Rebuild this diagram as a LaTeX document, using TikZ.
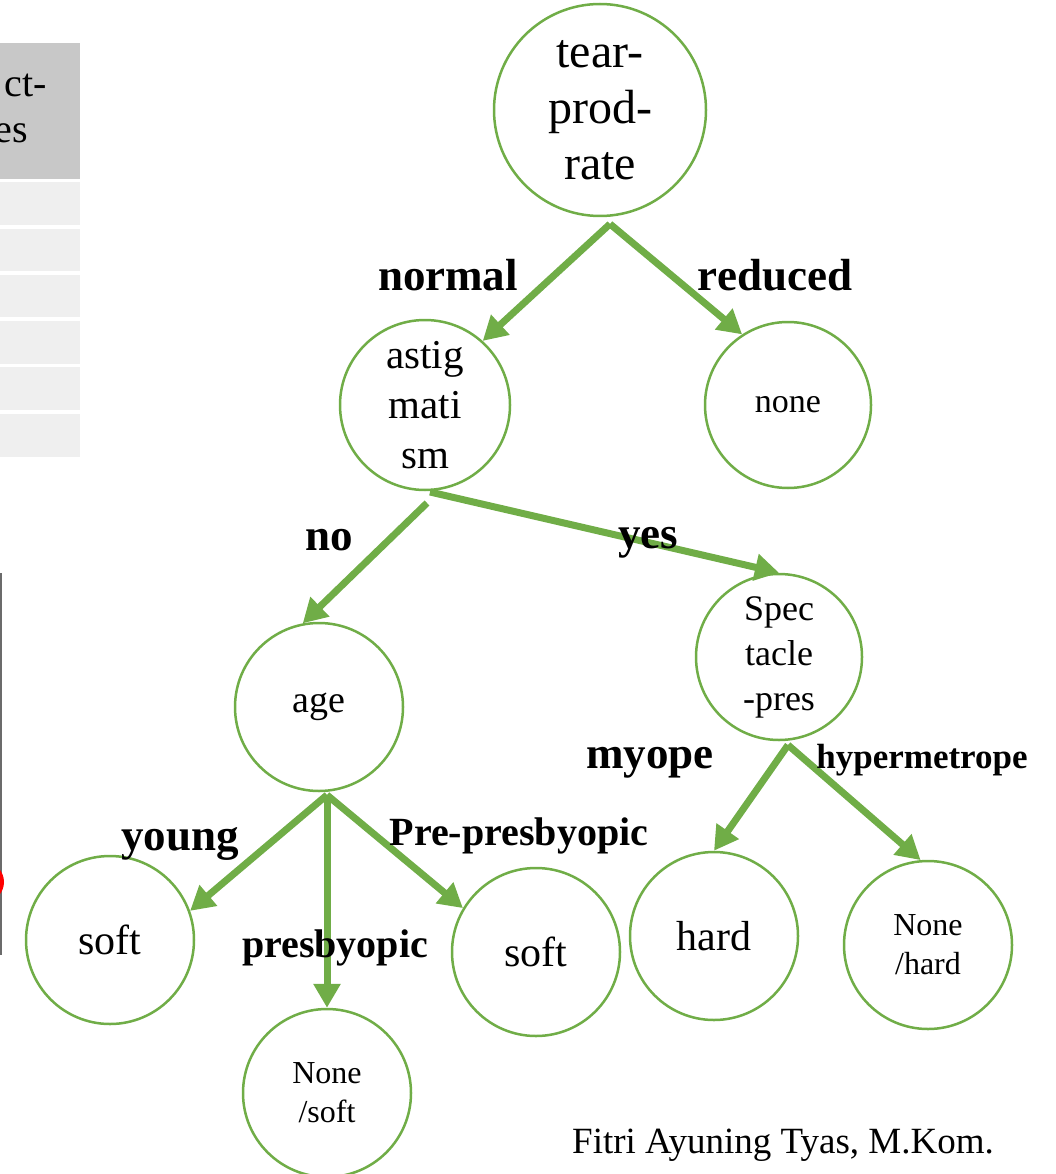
\documentclass[tikz,border=0pt]{standalone}
\usepackage{fontspec}
\setmainfont{Liberation Serif}
\usetikzlibrary{arrows.meta}
\definecolor{grn}{HTML}{70AD47}
\definecolor{hdr}{HTML}{C8C8C8}
\definecolor{rowc}{HTML}{EFEFEF}
\begin{document}
\begin{tikzpicture}[x=1pt,y=-1pt,
  circ/.style={circle,draw=grn,line width=2.5pt,fill=white,inner sep=0pt,minimum size=#1,align=center},
  edge/.style={draw=grn,line width=7pt,-{Triangle[length=24pt,width=26pt]}},
  lbl/.style={font=\fontsize{45}{50}\selectfont\bfseries,anchor=base,inner sep=0pt},
  fs/.style={font=\fontsize{#1}{#1}\selectfont}
]
\useasboundingbox (0,0) rectangle (1056,1174);
% partial table at left
\fill[hdr] (0,43) rectangle (80,179);
\foreach \a/\b in {182/225,229/271,275/317,321/364,367/410,414/457}
  \fill[rowc] (0,\a) rectangle (80,\b);
\node[font=\fontsize{40}{40}\selectfont,anchor=base east,inner sep=0pt] (h1) at (47,97) {ct-};
\node[font=\fontsize{40}{40}\selectfont,anchor=base east,inner sep=0pt] (h2) at (28,143) {es};
% partial frame and red mark at left
\draw[line width=2.5pt,color=black!58] (1,573) -- (1,955);
\draw[red,line width=4pt] (-16,882) circle[radius=18];

% nodes
\node[circ=212pt,font=\fontsize{48}{56}\selectfont] (tear) at (600,110) {tear-\\prod-\\rate};
\node[circ=170pt,font=\fontsize{41}{50}\selectfont] (astig) at (425,405) {astig\\mati\\sm};
\node[circ=166pt,font=\fontsize{34}{40}\selectfont] (none) at (788,405) {none};
\node[circ=168pt,font=\fontsize{38}{40}\selectfont] (age) at (319,707) {age};
\node[circ=166pt,font=\fontsize{36}{45}\selectfont] (spect) at (779,657) {Spec\\tacle\\-pres};
\node[circ=168pt,font=\fontsize{42}{42}\selectfont] (softL) at (110,940) {soft};
\node[circ=168pt,font=\fontsize{32}{39}\selectfont] (nsoft) at (327,1093) {None\\/soft};
\node[circ=168pt,font=\fontsize{42}{42}\selectfont] (softR) at (536,952) {soft};
\node[circ=168pt,font=\fontsize{42}{42}\selectfont] (hard) at (714,936) {hard};
\node[circ=168pt,font=\fontsize{32}{39}\selectfont] (nhard) at (928,945) {None\\/hard};

% connector start points
\coordinate (tb) at (610,224);
\coordinate (ab1) at (427,503);
\coordinate (ab2) at (430,492);
\coordinate (gb) at (327,795);
\coordinate (gb2) at (327,800);
\coordinate (sb) at (788,745);

% connectors
\draw[edge] (tb) -- (astig.48);
\draw[edge] (tb) -- (none.123);
\draw[edge] (ab1) -- (age.101);
\draw[edge] (ab2) -- (spect.north);
\draw[edge] (gb) -- (softL.20);
\draw[edge] (gb2) -- (nsoft.north);
\draw[edge] (gb) -- (softR.149);
\draw[edge] (sb) -- (hard.north);
\draw[edge] (sb) -- (nhard.95);

% edge labels
\node[lbl] (lnormal) at (448,290) {normal};
\node[lbl] (lreduced) at (775,290) {reduced};
\node[lbl] (lno) at (329,550) {no};
\node[lbl] (lyes) at (648,548) {yes};
\node[lbl] (lmyope) at (650,768) {myope};
\node[lbl,font=\fontsize{35}{40}\selectfont\bfseries] (lhyper) at (922,768) {hypermetrope};
\node[lbl] (lyoung) at (180,850) {young};
\node[lbl,font=\fontsize{40}{44}\selectfont\bfseries] (lpre) at (519,845) {Pre-presbyopic};
\node[lbl,font=\fontsize{40}{44}\selectfont\bfseries] (lpres) at (335,957) {presbyopic};

% footer
\node[font=\fontsize{37}{40}\selectfont,anchor=base,inner sep=0pt] (author) at (783,1153) {Fitri Ayuning Tyas, M.Kom.};
\end{tikzpicture}
\end{document}
